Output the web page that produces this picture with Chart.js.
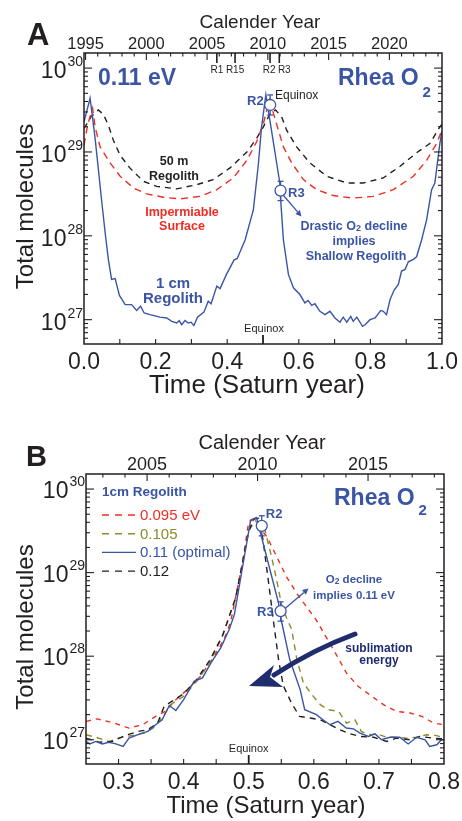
<!DOCTYPE html>
<html>
<head>
<meta charset="utf-8">
<script src="https://cdn.jsdelivr.net/npm/chart.js@4.4.0/dist/chart.umd.min.js"></script>
<style>
  html, body { margin: 0; padding: 0; background: #fff; }
  #wrap { position: relative; width: 462px; height: 821px; overflow: hidden; }
  canvas { position: absolute; left: 0; }
  #panelA { top: 0; }
  #panelB { top: 410px; }
</style>
</head>
<body>
<div id="wrap">
  <canvas id="panelA" width="462" height="410"></canvas>
  <canvas id="panelB" width="462" height="411"></canvas>
</div>
<script>
// Saturn year <-> calendar year
const SATURN_YEAR = 29.46;
const T0_YEAR = 1994.87;
const LOG_MIN = 26.71;
const LOG_MAX = 30.18;

// Panel A: 0.11 eV, one Saturn year (values are log10 of total molecules)
const tA1cm = [0, 0.017, 0.030, 0.040, 0.049, 0.059, 0.068, 0.077, 0.087, 0.099, 0.115, 0.133, 0.147, 0.158, 0.168, 0.184, 0.212, 0.231, 0.245, 0.259, 0.266, 0.273, 0.282, 0.291, 0.299, 0.307, 0.317, 0.335, 0.347, 0.355, 0.371, 0.380, 0.398, 0.419, 0.428, 0.450, 0.473, 0.487, 0.496, 0.508, 0.547, 0.550, 0.557, 0.571, 0.585, 0.603, 0.617, 0.626, 0.636, 0.645, 0.659, 0.673, 0.687, 0.701, 0.715, 0.724, 0.734, 0.745, 0.752, 0.762, 0.778, 0.785, 0.799, 0.813, 0.829, 0.836, 0.845, 0.855, 0.866, 0.878, 0.887, 0.897, 0.906, 0.920, 0.929, 0.943, 0.957, 0.971, 0.980, 0.994, 1.0];
const logA1cm = [29.36, 29.64, 29.20, 28.80, 28.43, 28.04, 27.72, 27.48, 27.49, 27.29, 27.18, 27.18, 27.11, 27.16, 27.08, 27.06, 27.03, 27.02, 26.98, 26.96, 26.99, 26.94, 26.99, 26.96, 26.97, 26.93, 27.03, 27.09, 27.22, 27.19, 27.40, 27.37, 27.54, 27.71, 27.73, 27.95, 28.31, 28.85, 29.30, 29.68, 28.63, 28.39, 27.95, 27.54, 27.38, 27.30, 27.20, 27.23, 27.17, 27.19, 27.10, 27.06, 27.10, 27.02, 26.97, 27.03, 26.97, 27.04, 26.98, 27.03, 26.92, 26.94, 27.00, 27.02, 27.11, 27.10, 27.06, 27.24, 27.35, 27.42, 27.58, 27.60, 27.69, 27.72, 27.75, 27.95, 28.19, 28.55, 28.63, 29.10, 29.25];
const tAImperm = [0, 0.010, 0.024, 0.031, 0.045, 0.073, 0.101, 0.138, 0.175, 0.222, 0.268, 0.324, 0.371, 0.417, 0.455, 0.482, 0.501, 0.518, 0.543, 0.557, 0.580, 0.613, 0.650, 0.696, 0.752, 0.808, 0.864, 0.920, 0.957, 0.985, 1.0];
const logAImperm = [29.08, 29.32, 29.52, 29.30, 29.06, 28.87, 28.71, 28.57, 28.50, 28.46, 28.44, 28.47, 28.55, 28.69, 28.90, 29.12, 29.34, 29.62, 29.26, 29.06, 28.87, 28.67, 28.55, 28.48, 28.45, 28.47, 28.55, 28.71, 28.90, 29.10, 29.26];
const tA50m = [0, 0.020, 0.040, 0.054, 0.068, 0.082, 0.101, 0.128, 0.166, 0.203, 0.259, 0.315, 0.361, 0.408, 0.455, 0.482, 0.501, 0.520, 0.535, 0.552, 0.566, 0.594, 0.631, 0.678, 0.734, 0.780, 0.836, 0.883, 0.929, 0.966, 0.994, 1.0];
const logA50m = [29.28, 29.42, 29.50, 29.45, 29.32, 29.14, 28.96, 28.81, 28.65, 28.59, 28.56, 28.61, 28.67, 28.81, 29.00, 29.16, 29.30, 29.46, 29.50, 29.42, 29.26, 29.06, 28.87, 28.71, 28.63, 28.63, 28.69, 28.83, 28.99, 29.10, 29.30, 29.33];

// Panel B: 1 cm regolith, four sublimation energies
const tB095 = [0.250, 0.267, 0.293, 0.316, 0.337, 0.357, 0.372, 0.388, 0.406, 0.426, 0.447, 0.462, 0.472, 0.490, 0.500, 0.506, 0.528, 0.543, 0.558, 0.574, 0.589, 0.604, 0.615, 0.633, 0.650, 0.668, 0.689, 0.707, 0.727, 0.748, 0.766, 0.784, 0.800];
const logB095 = [27.22, 27.25, 27.20, 27.14, 27.18, 27.28, 27.34, 27.48, 27.60, 27.76, 28.00, 28.20, 28.40, 29.10, 29.61, 29.63, 29.43, 29.19, 28.95, 28.75, 28.59, 28.43, 28.28, 28.04, 27.80, 27.64, 27.52, 27.42, 27.34, 27.32, 27.28, 27.20, 27.18];
const tB105 = [0.250, 0.265, 0.285, 0.300, 0.320, 0.340, 0.355, 0.370, 0.380, 0.400, 0.420, 0.440, 0.460, 0.480, 0.490, 0.500, 0.510, 0.525, 0.535, 0.543, 0.550, 0.558, 0.566, 0.574, 0.584, 0.597, 0.610, 0.622, 0.638, 0.650, 0.663, 0.673, 0.684, 0.697, 0.712, 0.727, 0.743, 0.758, 0.773, 0.789, 0.800];
const logB105 = [27.06, 27.03, 26.98, 27.02, 27.05, 27.08, 27.15, 27.30, 27.42, 27.52, 27.70, 27.92, 28.25, 28.70, 29.10, 29.50, 29.62, 29.51, 29.19, 28.91, 28.63, 28.46, 28.32, 27.96, 27.68, 27.54, 27.42, 27.36, 27.34, 27.20, 27.24, 27.10, 27.06, 27.07, 27.03, 27.03, 27.02, 27.03, 27.06, 27.05, 27.02];
const tB110 = [0.250, 0.256, 0.265, 0.275, 0.285, 0.296, 0.307, 0.316, 0.336, 0.345, 0.357, 0.367, 0.378, 0.388, 0.400, 0.416, 0.429, 0.442, 0.457, 0.470, 0.478, 0.503, 0.512, 0.546, 0.550, 0.563, 0.579, 0.586, 0.604, 0.614, 0.625, 0.637, 0.650, 0.661, 0.671, 0.684, 0.694, 0.704, 0.717, 0.732, 0.745, 0.758, 0.771, 0.778, 0.789, 0.796, 0.800];
const logB110 = [26.98, 26.95, 26.98, 26.95, 26.97, 26.95, 26.92, 27.02, 27.08, 27.10, 27.18, 27.24, 27.41, 27.35, 27.48, 27.70, 27.74, 27.92, 28.10, 28.32, 28.50, 29.63, 29.66, 28.63, 28.43, 27.96, 27.60, 27.36, 27.30, 27.24, 27.18, 27.22, 27.14, 27.13, 27.08, 27.04, 27.07, 27.00, 27.03, 27.03, 26.95, 27.03, 27.00, 26.92, 26.94, 27.00, 27.00];
const tB120 = [0.250, 0.270, 0.290, 0.310, 0.330, 0.345, 0.360, 0.370, 0.380, 0.400, 0.420, 0.440, 0.460, 0.480, 0.500, 0.508, 0.515, 0.522, 0.530, 0.538, 0.546, 0.553, 0.565, 0.578, 0.594, 0.610, 0.625, 0.640, 0.656, 0.671, 0.692, 0.712, 0.727, 0.748, 0.763, 0.783, 0.800];
const logB120 = [27.02, 26.97, 26.98, 27.05, 27.10, 27.12, 27.20, 27.40, 27.45, 27.55, 27.72, 27.95, 28.25, 28.70, 29.50, 29.64, 29.65, 29.39, 28.91, 28.42, 27.95, 27.65, 27.45, 27.28, 27.26, 27.24, 27.18, 27.12, 27.07, 27.04, 27.03, 26.98, 27.02, 27.00, 27.04, 27.02, 27.01];
const energyLabels = ['0.095 eV', '0.105', '0.11 (optimal)', '0.12'];

// Cassini flyby measurements (log10 molecules, with error range)
const obsNames = ['R2', 'R3'];
const obsTime = [0.520, 0.549];
const obsLog = [29.56, 28.54];
const obsLogLo = [29.44, 28.42];
const obsLogHi = [29.68, 28.65];
const flybyNames = ['R1', 'R15', 'R2', 'R3'];
const flybyYears = [2005.8, 2007.3, 2010.18, 2010.94];

// axis ticks
const decades = [27, 28, 29, 30];
const timeTicksA = [0.1, 0.2, 0.3, 0.4, 0.6, 0.7, 0.8, 0.9];
const timeLabelsA = [0, 0.2, 0.4, 0.6, 0.8, 1.0];
const timeTicksB = [0.3, 0.35, 0.4, 0.45, 0.55, 0.6, 0.65, 0.7, 0.75];
const timeLabelsB = [0.3, 0.4, 0.5, 0.6, 0.7, 0.8];
const yearLabelsA = [1995, 2000, 2005, 2010, 2015, 2020];
const yearLabelsB = [2005, 2010, 2015];

const BLUE = '#3b55a5';
const RED = '#ee2e24';
const OLIVE = '#8d8b2d';
const NAVY = '#1f2c6e';
const INK = '#231f20';
const FONT = '"Liberation Sans", Arial, Helvetica, sans-serif';

function f(size, bold) { return (bold ? 'bold ' : '') + size + 'px ' + FONT; }
function toPoints(ts, logs) { return ts.map((t, i) => ({ x: t, y: Math.pow(10, logs[i]) })); }

function seg(ctx, x1, y1, x2, y2) {
  ctx.beginPath(); ctx.moveTo(x1, y1); ctx.lineTo(x2, y2); ctx.stroke();
}

// draws text pieces side by side (used for superscripts / subscripts)
function textRuns(ctx, parts, x, y, align) {
  let w = 0;
  for (const p of parts) { ctx.font = p.font; w += ctx.measureText(p.text).width + (p.dx || 0); }
  let cx = align === 'center' ? x - w / 2 : align === 'right' ? x - w : x;
  ctx.textAlign = 'left';
  for (const p of parts) {
    ctx.font = p.font;
    cx += p.dx || 0;
    ctx.fillText(p.text, cx, y + (p.dy || 0));
    cx += ctx.measureText(p.text).width;
  }
}

function arrow(ctx, x1, y1, x2, y2, len, half) {
  const a = Math.atan2(y2 - y1, x2 - x1);
  const bx = x2 - len * Math.cos(a), by = y2 - len * Math.sin(a);
  seg(ctx, x1, y1, bx, by);
  ctx.beginPath();
  ctx.moveTo(x2, y2);
  ctx.lineTo(bx + half * Math.sin(a), by - half * Math.cos(a));
  ctx.lineTo(bx - half * Math.sin(a), by + half * Math.cos(a));
  ctx.closePath();
  ctx.fill();
}

function obsPixels(chart) {
  return obsTime.map((t, i) => ({
    x: chart.scales.x.getPixelForValue(t),
    y: chart.scales.y.getPixelForValue(Math.pow(10, obsLog[i]))
  }));
}

function drawAxes(chart, ax) {
  const { ctx, chartArea: a } = chart;
  const xs = chart.scales.x, ys = chart.scales.y, yr = chart.scales.year;
  ctx.save();
  ctx.strokeStyle = INK;
  ctx.fillStyle = INK;
  ctx.textBaseline = 'alphabetic';
  ctx.lineWidth = 1.5;
  ctx.strokeRect(a.left, a.top, a.right - a.left, a.bottom - a.top);

  // log ticks, both sides, pointing in
  ctx.lineWidth = 1.1;
  for (let e = 26; e <= 30; e++) {
    for (let k = 1; k <= 9; k++) {
      const v = k * Math.pow(10, e);
      if (v < ys.min || v > ys.max) continue;
      const py = ys.getPixelForValue(v);
      const len = k === 1 ? 8 : 4;
      seg(ctx, a.left, py, a.left + len, py);
      seg(ctx, a.right, py, a.right - len, py);
    }
  }
  for (const e of decades) {
    const py = ys.getPixelForValue(Math.pow(10, e));
    textRuns(ctx, [
      { text: '10', font: f(ax.tickSize) },
      { text: String(e), font: f(14), dy: -12, dx: 1 }
    ], a.left - 1, py + ax.decDy, 'right');
  }

  // time axis
  for (const t of ax.timeTicks) {
    const px = xs.getPixelForValue(t);
    seg(ctx, px, a.bottom, px, a.bottom - 5);
  }
  ctx.font = f(ax.tickSize);
  ctx.textAlign = 'center';
  for (const t of ax.timeLabels) ctx.fillText(t.toFixed(1), xs.getPixelForValue(t), a.bottom + 25);

  // calendar axis
  for (let y = Math.ceil(yr.min); y <= Math.floor(yr.max); y++) {
    const px = yr.getPixelForValue(y);
    seg(ctx, px, a.top, px, a.top + (y % 5 === 0 ? 7 : 3.5));
  }
  ctx.font = f(ax.yearSize);
  for (const y of ax.yearLabels) ctx.fillText(String(y), yr.getPixelForValue(y), a.top - 4);

  ctx.font = f(ax.topTitleSize);
  ctx.fillText('Calender Year', ax.topTitleX, a.top - 25);
  ctx.font = f(ax.titleSize);
  ctx.fillText('Time (Saturn year)', ax.xTitleX, a.bottom + 49);
  ctx.save();
  ctx.translate(33, (a.top + a.bottom) / 2 + 8);
  ctx.rotate(-Math.PI / 2);
  ctx.font = f(24);
  ctx.fillText('Total molecules', 0, 0);
  ctx.restore();

  // equinox marker
  const pe = xs.getPixelForValue(0.5);
  ctx.lineWidth = 1.8;
  seg(ctx, pe, a.bottom, pe, a.bottom - 9);
  ctx.font = f(11);
  ctx.fillText('Equinox', pe + ax.eqDx, a.bottom - 12.5);
  ctx.restore();
}

function framePlugin(ax, notes) {
  return {
    id: 'rheaFrame',
    beforeDatasetDraw(chart, args) {
      if (!chart.data.datasets[args.index].isObs) return;
      const { ctx } = chart;
      const xs = chart.scales.x, ys = chart.scales.y;
      ctx.save();
      ctx.strokeStyle = BLUE;
      ctx.lineWidth = 1.3;
      obsTime.forEach((t, i) => {
        const px = xs.getPixelForValue(t);
        const lo = ys.getPixelForValue(Math.pow(10, obsLogLo[i]));
        const hi = ys.getPixelForValue(Math.pow(10, obsLogHi[i]));
        seg(ctx, px, lo, px, hi);
        seg(ctx, px - 3, lo, px + 3, lo);
        seg(ctx, px - 3, hi, px + 3, hi);
      });
      ctx.restore();
    },
    afterDraw(chart) {
      drawAxes(chart, ax);
      notes(chart);
    }
  };
}

function lineSet(label, ts, logs, color, dash, order) {
  return {
    label, data: toPoints(ts, logs), borderColor: color, borderWidth: 1.4,
    borderDash: dash, pointRadius: 0, tension: 0, fill: false, order
  };
}

function obsSet() {
  return {
    isObs: true, label: 'Cassini', data: toPoints(obsTime, obsLog), showLine: false,
    pointRadius: 5.5, pointBackgroundColor: '#fff', pointBorderColor: BLUE,
    pointBorderWidth: 1.3, order: 0
  };
}

function chartOptions(xMin, xMax, padding) {
  return {
    responsive: false, animation: false, devicePixelRatio: 1, events: [],
    layout: { padding },
    plugins: { legend: { display: false }, tooltip: { enabled: false } },
    scales: {
      x: { type: 'linear', min: xMin, max: xMax, display: false },
      year: {
        type: 'linear', axis: 'x', position: 'top', display: false,
        min: T0_YEAR + xMin * SATURN_YEAR, max: T0_YEAR + xMax * SATURN_YEAR
      },
      y: { type: 'logarithmic', min: Math.pow(10, LOG_MIN), max: Math.pow(10, LOG_MAX), display: false }
    }
  };
}

function notesA(chart) {
  const { ctx, chartArea: a } = chart;
  const yr = chart.scales.year;
  const p = obsPixels(chart);
  ctx.save();
  ctx.textBaseline = 'alphabetic';
  ctx.fillStyle = INK;
  ctx.strokeStyle = INK;
  ctx.textAlign = 'left';
  ctx.font = f(31, true);
  ctx.fillText('A', 27, 45);

  // flyby dates along the top
  const nudge = [0, 0, -1, 5];
  ctx.lineWidth = 1.6;
  ctx.textAlign = 'center';
  ctx.font = f(10);
  flybyYears.forEach((y, i) => {
    const px = yr.getPixelForValue(y);
    seg(ctx, px, a.top, px, a.top + 10);
    ctx.fillText(flybyNames[i], px + nudge[i], a.top + 19.5);
  });
  ctx.textAlign = 'left';
  ctx.font = f(12);
  ctx.fillText('Equinox', 275, 98.5);

  ctx.font = f(12.5, true);
  ctx.textAlign = 'center';
  ctx.fillText('50 m', 174, 165);
  ctx.fillText('Regolith', 174, 179.5);
  ctx.fillStyle = RED;
  ctx.fillText('Impermiable', 182, 216);
  ctx.fillText('Surface', 182, 229.5);

  ctx.fillStyle = BLUE;
  ctx.font = f(15, true);
  ctx.fillText('1 cm', 173, 287.5);
  ctx.fillText('Regolith', 173, 302.5);

  textRuns(ctx, [{ text: '0.11 eV', font: f(23, true) }], 98, 85, 'left');
  textRuns(ctx, [{ text: 'Rhea O', font: f(23, true) }, { text: '2', font: f(15, true), dy: 12, dx: 4 }], 338, 85, 'left');

  ctx.font = f(13, true);
  ctx.textAlign = 'right';
  ctx.fillText(obsNames[0], p[0].x - 6.5, p[0].y);
  ctx.textAlign = 'left';
  ctx.fillText(obsNames[1], p[1].x + 7.5, p[1].y + 6);

  ctx.strokeStyle = BLUE;
  ctx.lineWidth = 1.3;
  arrow(ctx, p[1].x + 3, p[1].y + 5, 301.5, 216.5, 6, 3);

  textRuns(ctx, [
    { text: 'Drastic O', font: f(12.5, true) },
    { text: '2', font: f(9, true), dy: 1 },
    { text: ' decline', font: f(12.5, true) }
  ], 354, 230, 'center');
  ctx.font = f(12.5, true);
  ctx.textAlign = 'center';
  ctx.fillText('implies', 354, 245);
  ctx.fillText('Shallow Regolith', 356, 260);
  ctx.restore();
}

function notesB(chart) {
  const { ctx } = chart;
  const p = obsPixels(chart);
  ctx.save();
  ctx.textBaseline = 'alphabetic';
  ctx.fillStyle = INK;
  ctx.textAlign = 'left';
  ctx.font = f(29, true);
  ctx.fillText('B', 26, 56);

  // legend built from the four energy curves
  ctx.fillStyle = BLUE;
  ctx.font = f(13.5, true);
  ctx.fillText('1cm Regolith', 102, 86);
  chart.data.datasets.slice(0, 4).forEach((ds, i) => {
    const yb = 110 + i * 18.7;
    ctx.strokeStyle = ds.borderColor;
    ctx.lineWidth = 1.4;
    ctx.setLineDash(ds.borderDash.length ? [7, 6] : []);
    seg(ctx, 102, yb - 5, 136, yb - 5);
    ctx.setLineDash([]);
    ctx.fillStyle = ds.borderColor;
    ctx.font = f(15);
    ctx.textAlign = 'left';
    ctx.fillText(ds.label, 140, yb);
  });

  ctx.fillStyle = BLUE;
  textRuns(ctx, [{ text: 'Rhea O', font: f(23, true) }, { text: '2', font: f(15, true), dy: 10, dx: 4 }], 334, 95, 'left');

  ctx.font = f(13, true);
  ctx.textAlign = 'left';
  ctx.fillText(obsNames[0], p[0].x + 4, p[0].y - 8);
  ctx.textAlign = 'right';
  ctx.fillText(obsNames[1], p[1].x - 7, p[1].y + 5);

  ctx.strokeStyle = BLUE;
  ctx.lineWidth = 1.3;
  arrow(ctx, p[1].x + 5, p[1].y - 3, 308.5, 178.5, 6, 3);
  textRuns(ctx, [
    { text: 'O', font: f(11.5, true) },
    { text: '2', font: f(8.5, true), dy: 1 },
    { text: ' decline', font: f(11.5, true) }
  ], 354, 172.5, 'center');
  ctx.font = f(11.5, true);
  ctx.textAlign = 'center';
  ctx.fillText('implies 0.11 eV', 354, 188.5);

  // curved arrow: higher sublimation energy -> earlier decline
  ctx.strokeStyle = NAVY;
  ctx.fillStyle = NAVY;
  ctx.lineWidth = 5;
  ctx.lineCap = 'round';
  ctx.beginPath();
  ctx.moveTo(355, 224);
  ctx.quadraticCurveTo(312, 240, 274, 265);
  ctx.stroke();
  ctx.beginPath();
  ctx.moveTo(249, 276);
  ctx.lineTo(274, 255);
  ctx.lineTo(270, 267);
  ctx.lineTo(283, 277);
  ctx.closePath();
  ctx.fill();
  ctx.font = f(12, true);
  ctx.textAlign = 'center';
  ctx.fillText('sublimation', 379, 241.5);
  ctx.fillText('energy', 379, 254);
  ctx.restore();
}

new Chart(document.getElementById('panelA'), {
  type: 'line',
  data: {
    datasets: [
      obsSet(),
      lineSet('1 cm Regolith', tA1cm, logA1cm, BLUE, [], 1),
      lineSet('Impermiable Surface', tAImperm, logAImperm, RED, [7, 5], 2),
      lineSet('50 m Regolith', tA50m, logA50m, INK, [6, 5], 3)
    ]
  },
  options: chartOptions(0, 1, { left: 84, top: 53, right: 20, bottom: 66 }),
  plugins: [framePlugin({
    timeTicks: timeTicksA, timeLabels: timeLabelsA, yearLabels: yearLabelsA,
    tickSize: 23, yearSize: 16.5, topTitleSize: 19, titleSize: 26,
    topTitleX: 260, xTitleX: 257, decDy: 10, eqDx: 1
  }, notesA)]
});

new Chart(document.getElementById('panelB'), {
  type: 'line',
  data: {
    datasets: [
      lineSet(energyLabels[0], tB095, logB095, RED, [5, 5], 4),
      lineSet(energyLabels[1], tB105, logB105, OLIVE, [6, 5], 3),
      lineSet(energyLabels[2], tB110, logB110, BLUE, [], 1),
      lineSet(energyLabels[3], tB120, logB120, INK, [6, 5], 2),
      obsSet()
    ]
  },
  options: chartOptions(0.25, 0.8, { left: 86, top: 64, right: 18, bottom: 57 }),
  plugins: [framePlugin({
    timeTicks: timeTicksB, timeLabels: timeLabelsB, yearLabels: yearLabelsB,
    tickSize: 23, yearSize: 18, topTitleSize: 20, titleSize: 24,
    topTitleX: 262, xTitleX: 266, decDy: 9, eqDx: 0
  }, notesB)]
});
</script>
</body>
</html>
